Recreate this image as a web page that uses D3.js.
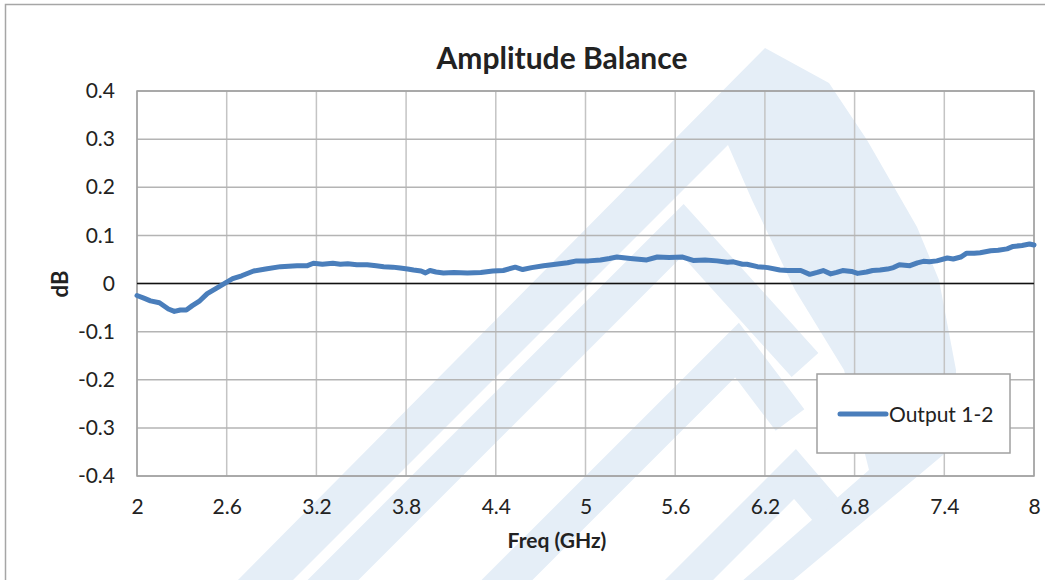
<!DOCTYPE html>
<html><head><meta charset="utf-8">
<script src="https://cdn.jsdelivr.net/npm/d3@7"></script>
<style>body{margin:0;background:#fff}svg{display:block}text{font-family:Lato,"Open Sans",sans-serif;fill:#222}</style>
</head><body><svg id="c" width="1045" height="580"></svg>
<script>
const title = "Amplitude Balance";
const xTitle = "Freq (GHz)";
const yTitle = "dB";
const seriesName = "Output 1-2";
const xTicks = [2, 2.6, 3.2, 3.8, 4.4, 5, 5.6, 6.2, 6.8, 7.4, 8];
const yTicks = [0.4, 0.3, 0.2, 0.1, 0, -0.1, -0.2, -0.3, -0.4];
const freq = [2.00,2.05,2.09,2.15,2.21,2.25,2.29,2.33,2.37,2.42,2.47,2.53,2.60,2.64,2.70,2.78,2.86,2.96,3.07,3.14,3.18,3.24,3.31,3.36,3.41,3.47,3.54,3.60,3.65,3.71,3.76,3.81,3.85,3.90,3.93,3.96,4.00,4.05,4.12,4.21,4.30,4.38,4.45,4.53,4.58,4.64,4.72,4.80,4.88,4.94,5.02,5.10,5.16,5.21,5.30,5.41,5.48,5.56,5.65,5.72,5.80,5.88,5.95,5.99,6.05,6.08,6.15,6.22,6.30,6.35,6.44,6.50,6.55,6.59,6.64,6.68,6.72,6.78,6.82,6.88,6.92,6.97,7.02,7.06,7.10,7.17,7.22,7.26,7.30,7.35,7.42,7.46,7.51,7.55,7.60,7.64,7.71,7.76,7.82,7.86,7.92,7.97,8.00];
const dB = [-0.025,-0.031,-0.036,-0.040,-0.053,-0.058,-0.055,-0.055,-0.046,-0.036,-0.021,-0.010,0.003,0.010,0.016,0.026,0.030,0.035,0.037,0.037,0.042,0.040,0.042,0.040,0.041,0.039,0.039,0.037,0.035,0.034,0.032,0.030,0.028,0.026,0.022,0.027,0.024,0.022,0.023,0.022,0.023,0.026,0.027,0.034,0.029,0.033,0.037,0.040,0.043,0.047,0.047,0.049,0.052,0.055,0.052,0.049,0.055,0.054,0.055,0.048,0.049,0.047,0.044,0.045,0.040,0.040,0.035,0.033,0.028,0.027,0.027,0.019,0.023,0.027,0.020,0.023,0.027,0.025,0.021,0.024,0.027,0.028,0.030,0.033,0.039,0.037,0.043,0.046,0.045,0.047,0.053,0.051,0.055,0.063,0.063,0.064,0.068,0.069,0.072,0.077,0.079,0.082,0.080];

const svg = d3.select("#c");
const W = 1045, H = 580;
const plot = {l:137, r:1034, t:91, b:476};
const x = d3.scaleLinear().domain([2,8]).range([plot.l, plot.r]);
const y = d3.scaleLinear().domain([-0.4,0.4]).range([plot.b, plot.t]);

// chart frame
svg.append("rect").attr("x",5.5).attr("y",4.5).attr("width",W+10).attr("height",H+10)
  .attr("fill","#fff").attr("stroke","#a6a6a6").attr("stroke-width",1.5);

// faint watermark logo (background decoration)
const wmColor = "#e5eef7";
const wm = svg.append("g");
const outerShape = [[765,48],[829,83],[867,140],[917,227],[939,280],[956,370],[955,440],[943,455],[791,582],[741,582],[869,470],[844,370],[795,290],[752,200],[728,145],[288,585],[233,585]];
wm.append("path").attr("d", d3.line().curve(d3.curveLinearClosed)(outerShape)).attr("fill", wmColor);
const chevrons = [
  {w:36, p:[[283,630],[683,230],[805,365]]},
  {w:36, p:[[437,650],[737,350],[790,420]]},
  {w:34, p:[[595,674],[795,474],[826,510]]}
];
chevrons.forEach(c => wm.append("path").attr("d", d3.line()(c.p)).attr("fill","none")
  .attr("stroke", wmColor).attr("stroke-width", c.w).attr("stroke-linejoin","miter"));

// gridlines
const g = svg.append("g");
g.selectAll("line.v").data(xTicks).join("line")
  .attr("x1",d=>x(d)).attr("x2",d=>x(d)).attr("y1",plot.t).attr("y2",plot.b)
  .attr("stroke","#c4c4c4").attr("stroke-width",1.5);
g.selectAll("line.h").data(yTicks).join("line")
  .attr("x1",plot.l).attr("x2",plot.r).attr("y1",d=>y(d)).attr("y2",d=>y(d))
  .attr("stroke","#b4b4b4").attr("stroke-width",1.5);
g.append("rect").attr("x",plot.l).attr("y",plot.t).attr("width",plot.r-plot.l).attr("height",plot.b-plot.t)
  .attr("fill","none").attr("stroke","#a0a0a0").attr("stroke-width",1.5);
g.append("line").attr("x1",plot.l).attr("x2",plot.r).attr("y1",y(0)).attr("y2",y(0))
  .attr("stroke","#111").attr("stroke-width",1.3);

// axes labels
const fmt = d => String(d);
const yAxis = d3.axisLeft(y).tickValues(yTicks).tickSize(0).tickPadding(22).tickFormat(fmt);
const ya = svg.append("g").attr("transform",`translate(${plot.l},0)`).call(yAxis);
ya.select(".domain").remove();
ya.selectAll("text").style("font-size","21px").style("font-family","Lato").attr("fill","#222");
const xAxis = d3.axisBottom(x).tickValues(xTicks).tickSize(0).tickPadding(23).tickFormat(fmt);
const xa = svg.append("g").attr("transform",`translate(0,${plot.b})`).call(xAxis);
xa.select(".domain").remove();
xa.selectAll("text").style("font-size","21px").style("font-family","Lato").attr("fill","#222");

// series
svg.append("path").datum(freq.map((f,i)=>[f,dB[i]]))
  .attr("d", d3.line().x(d=>x(d[0])).y(d=>y(d[1])).curve(d3.curveLinear))
  .attr("fill","none").attr("stroke","#4a7ebb").attr("stroke-width",5)
  .attr("stroke-linejoin","round").attr("stroke-linecap","round");

// titles
svg.append("text").attr("x",562).attr("y",69).attr("text-anchor","middle")
  .style("font-size","30px").style("font-weight","bold").text(title);
svg.append("text").attr("x",557).attr("y",548).attr("text-anchor","middle")
  .style("font-size","21px").style("font-weight","bold").text(xTitle);
svg.append("text").attr("transform","translate(68,284) rotate(-90)").attr("text-anchor","middle")
  .style("font-size","22px").style("font-weight","bold").text(yTitle);

// legend
const lg = svg.append("g");
lg.append("rect").attr("x",817).attr("y",374).attr("width",193).attr("height",79)
  .attr("fill","#fff").attr("stroke","#a0a0a0").attr("stroke-width",1.5);
lg.append("line").attr("x1",840).attr("x2",886).attr("y1",414).attr("y2",414)
  .attr("stroke","#4a7ebb").attr("stroke-width",5).attr("stroke-linecap","round");
lg.append("text").attr("x",889).attr("y",421.5).style("font-size","21px").text(seriesName);
</script></body></html>
